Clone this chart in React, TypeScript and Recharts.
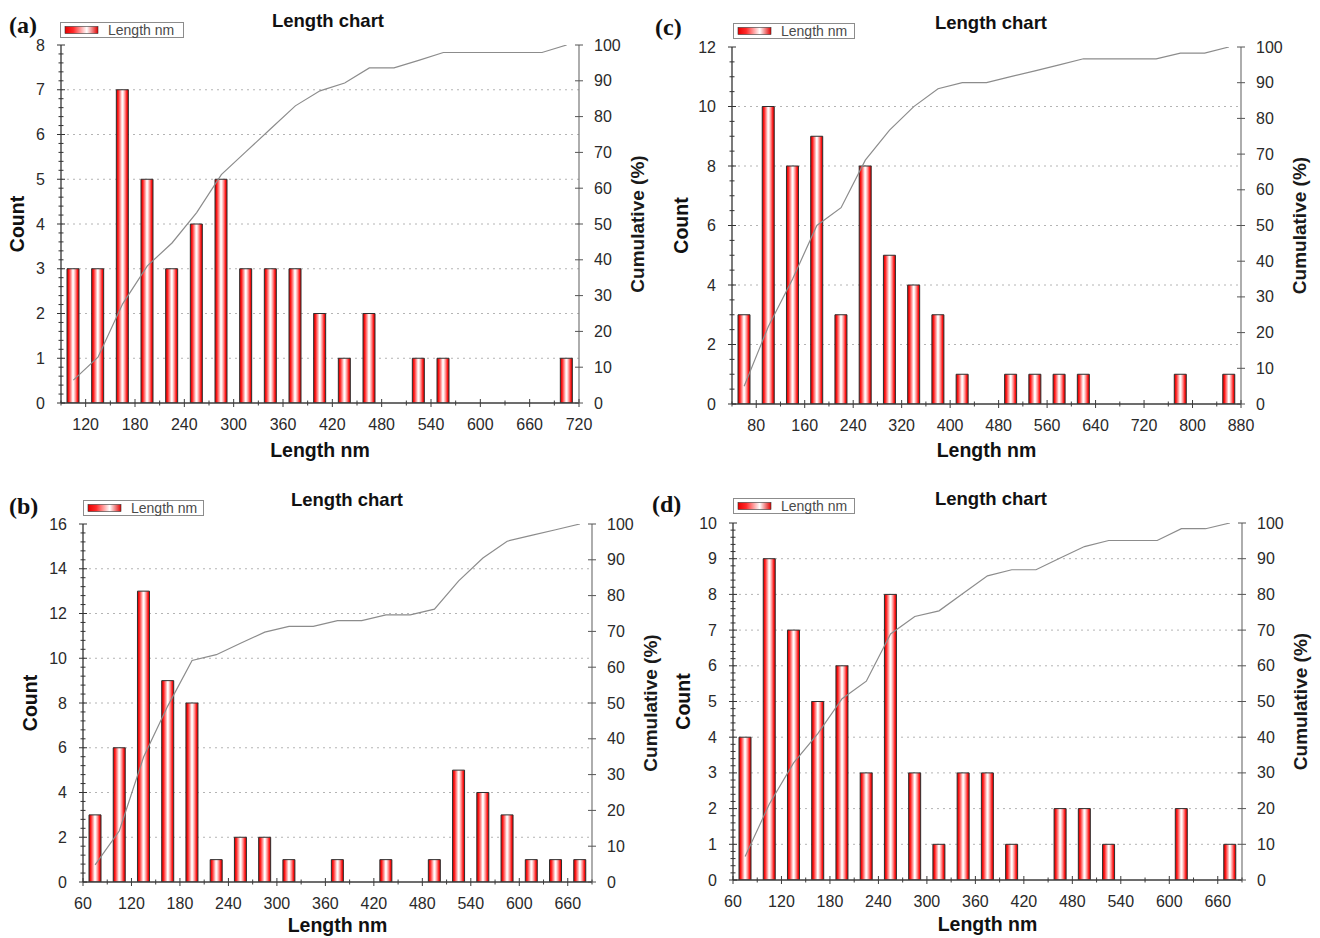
import React from 'react';
import { ComposedChart, Bar, Line, XAxis, YAxis, CartesianGrid } from 'recharts';

// ---------- data ----------
const binsA = [105, 135, 165, 195, 225, 255, 285, 315, 345, 375, 405, 435, 465, 495, 525, 555, 585, 615, 645, 675, 705];
const countsA = [3, 3, 7, 5, 3, 4, 5, 3, 3, 3, 2, 1, 2, 0, 1, 1, 0, 0, 0, 0, 1];
const cumA = [6.4, 12.8, 27.7, 38.3, 44.7, 53.2, 63.8, 70.2, 76.6, 83.0, 87.2, 89.4, 93.6, 93.6, 95.7, 97.9, 97.9, 97.9, 97.9, 97.9, 100];

const binsB = [75, 105, 135, 165, 195, 225, 255, 285, 315, 345, 375, 405, 435, 465, 495, 525, 555, 585, 615, 645, 675];
const countsB = [3, 6, 13, 9, 8, 1, 2, 2, 1, 0, 1, 0, 1, 0, 1, 5, 4, 3, 1, 1, 1];
const cumB = [4.8, 14.3, 34.9, 49.2, 61.9, 63.5, 66.7, 69.8, 71.4, 71.4, 73.0, 73.0, 74.6, 74.6, 76.2, 84.1, 90.5, 95.2, 96.8, 98.4, 100];

const binsC = [60, 100, 140, 180, 220, 260, 300, 340, 380, 420, 460, 500, 540, 580, 620, 660, 700, 740, 780, 820, 860];
const countsC = [3, 10, 8, 9, 3, 8, 5, 4, 3, 1, 0, 1, 1, 1, 1, 0, 0, 0, 1, 0, 1];
const cumC = [5.0, 21.7, 35.0, 50.0, 55.0, 68.3, 76.7, 83.3, 88.3, 90.0, 90.0, 91.7, 93.3, 95.0, 96.7, 96.7, 96.7, 96.7, 98.3, 98.3, 100];

const binsD = [75, 105, 135, 165, 195, 225, 255, 285, 315, 345, 375, 405, 435, 465, 495, 525, 555, 585, 615, 645, 675];
const countsD = [4, 9, 7, 5, 6, 3, 8, 3, 1, 3, 3, 1, 0, 2, 2, 1, 0, 0, 2, 0, 1];
const cumD = [6.6, 21.3, 32.8, 41.0, 50.8, 55.7, 68.9, 73.8, 75.4, 80.3, 85.2, 86.9, 86.9, 90.2, 93.4, 95.1, 95.1, 95.1, 98.4, 98.4, 100];

// tick labels
const xTicksA = [120, 180, 240, 300, 360, 420, 480, 540, 600, 660, 720];
const xTicksB = [60, 120, 180, 240, 300, 360, 420, 480, 540, 600, 660];
const xTicksC = [80, 160, 240, 320, 400, 480, 560, 640, 720, 800, 880];
const xTicksD = [60, 120, 180, 240, 300, 360, 420, 480, 540, 600, 660];
const yTicksA = [0, 1, 2, 3, 4, 5, 6, 7, 8];
const yTicksB = [0, 2, 4, 6, 8, 10, 12, 14, 16];
const yTicksC = [0, 2, 4, 6, 8, 10, 12];
const yTicksD = [0, 1, 2, 3, 4, 5, 6, 7, 8, 9, 10];
const cumTicks = [0, 10, 20, 30, 40, 50, 60, 70, 80, 90, 100];

const SANS = '"Liberation Sans", Arial, Helvetica, sans-serif';
const SERIF = '"Liberation Serif", "Times New Roman", serif';

// minor tick helper (axis decoration only)
function withMinor(majors: number[], step: number, lo: number, hi: number): number[] {
  const out: number[] = [];
  const n = Math.round((hi - lo) / step);
  for (let i = 0; i <= n; i++) out.push(+(lo + i * step).toFixed(6));
  majors.forEach((m) => { if (!out.some((v) => Math.abs(v - m) < 1e-6)) out.push(m); });
  return out.sort((a, b) => a - b);
}

function isMajor(v: number, majors: number[]) {
  return majors.some((m) => Math.abs(m - v) < 1e-6);
}

function makeTick(side: 'bottom' | 'top' | 'left' | 'right', majors: number[], color: string) {
  return (props: any) => {
    const { x, y, payload } = props;
    const v = payload.value as number;
    const maj = isMajor(v, majors);
    const len = maj ? 4 : 2.5;
    const txt = { fontFamily: SANS, fontSize: 16, fill: '#2a2a2a' } as any;
    if (side === 'bottom') {
      return (
        <g>
          <line x1={x} x2={x} y1={y - len} y2={y + len} stroke={color} strokeWidth={1} />
          {maj && (
            <text x={x} y={y + 21} textAnchor="middle" dominantBaseline="central" {...txt}>{v}</text>
          )}
        </g>
      );
    }
    if (side === 'top') {
      return <line x1={x} x2={x} y1={y} y2={y + (maj ? 5 : 3)} stroke={color} strokeWidth={1} />;
    }
    if (side === 'left') {
      return (
        <g>
          <line x1={x - len} x2={x + len} y1={y} y2={y} stroke={color} strokeWidth={1} />
          {maj && (
            <text x={x - 16} y={y} textAnchor="end" dominantBaseline="central" {...txt}>{v}</text>
          )}
        </g>
      );
    }
    return (
      <g>
        <line x1={x - 4} x2={x + 4} y1={y} y2={y} stroke={color} strokeWidth={1} />
        <text x={x + 15} y={y} textAnchor="start" dominantBaseline="central" {...txt}>{v}</text>
      </g>
    );
  };
}

type Plot = { l: number; t: number; r: number; b: number };
type PanelCfg = {
  id: string;
  letter: string;
  plot: Plot;
  xDomain: [number, number];
  xMajor: number[];
  xMinorStep: number;
  yMax: number;
  yMajor: number[];
  yMinorStep: number;
  bins: number[];
  counts: number[];
  cum: number[];
  countOff: number;
  xTitleOff: number;
  title: { x: number; y: number };
  legend: { x: number; y: number; w: number };
  letterPos: { x: number; y: number };
};

const panels: PanelCfg[] = [
  {
    id: 'a', letter: '(a)', plot: { l: 61, t: 45, r: 579, b: 403 },
    xDomain: [90, 720], xMajor: xTicksA, xMinorStep: 30,
    yMax: 8, yMajor: yTicksA, yMinorStep: 0.2,
    bins: binsA, counts: countsA, cum: cumA, countOff: 44, xTitleOff: 47,
    title: { x: 328, y: 20 }, legend: { x: 60, y: 22, w: 123 }, letterPos: { x: 9, y: 33 },
  },
  {
    id: 'c', letter: '(c)', plot: { l: 732, t: 47, r: 1241, b: 404 },
    xDomain: [40, 880], xMajor: xTicksC, xMinorStep: 40,
    yMax: 12, yMajor: yTicksC, yMinorStep: 0.5,
    bins: binsC, counts: countsC, cum: cumC, countOff: 51, xTitleOff: 46,
    title: { x: 991, y: 22 }, legend: { x: 733, y: 23, w: 121 }, letterPos: { x: 655, y: 35 },
  },
  {
    id: 'b', letter: '(b)', plot: { l: 83, t: 524, r: 592, b: 882 },
    xDomain: [60, 690], xMajor: xTicksB, xMinorStep: 30,
    yMax: 16, yMajor: yTicksB, yMinorStep: 0.4,
    bins: binsB, counts: countsB, cum: cumB, countOff: 53, xTitleOff: 43,
    title: { x: 347, y: 499 }, legend: { x: 83, y: 500, w: 120 }, letterPos: { x: 9, y: 514 },
  },
  {
    id: 'd', letter: '(d)', plot: { l: 733, t: 523, r: 1242, b: 880 },
    xDomain: [60, 690], xMajor: xTicksD, xMinorStep: 30,
    yMax: 10, yMajor: yTicksD, yMinorStep: 0.2,
    bins: binsD, counts: countsD, cum: cumD, countOff: 50, xTitleOff: 44,
    title: { x: 991, y: 498 }, legend: { x: 733, y: 498, w: 121 }, letterPos: { x: 652, y: 512 },
  },
];

const LEFT_W = 60;
const RIGHT_W = 60;
const TOP_M = 10;
const X_H = 40;

function Panel({ cfg }: { cfg: PanelCfg }) {
  const { plot } = cfg;
  const width = plot.r - plot.l + LEFT_W + RIGHT_W;
  const height = plot.b - plot.t + TOP_M + X_H;
  const data = cfg.bins.map((x, i) => ({ x, count: cfg.counts[i], cum: cfg.cum[i] }));
  const xFirst = cfg.xMajor[0] - Math.floor((cfg.xMajor[0] - cfg.xDomain[0]) / cfg.xMinorStep) * cfg.xMinorStep;
  const xLastMajor = cfg.xMajor[cfg.xMajor.length - 1];
  const xLast = xLastMajor + Math.floor((cfg.xDomain[1] - xLastMajor) / cfg.xMinorStep) * cfg.xMinorStep;
  const xTicksAll = withMinor(cfg.xMajor, cfg.xMinorStep, xFirst, xLast)
    .filter((v) => v >= cfg.xDomain[0] - 1e-6 && v <= cfg.xDomain[1] + 1e-6);
  const yTicksAll = withMinor(cfg.yMajor, cfg.yMinorStep, 0, cfg.yMax);
  const gridVals = cfg.yMajor.filter((v) => v > 0 && v < cfg.yMax);
  const gid = 'barGrad-' + cfg.id;
  return (
    <div style={{ position: 'absolute', left: plot.l - LEFT_W, top: plot.t - TOP_M, width, height }}>
      <ComposedChart width={width} height={height} data={data} margin={{ top: TOP_M, right: 0, bottom: 0, left: 0 }}>
        <defs>
          <linearGradient id={gid} x1="0" y1="0" x2="1" y2="0">
            <stop offset="0%" stopColor="#c80000" />
            <stop offset="14%" stopColor="#ff1414" />
            <stop offset="32%" stopColor="#ff8c8c" />
            <stop offset="48%" stopColor="#ffffff" />
            <stop offset="56%" stopColor="#fff2f2" />
            <stop offset="72%" stopColor="#ff8c8c" />
            <stop offset="88%" stopColor="#ff1414" />
            <stop offset="100%" stopColor="#c80000" />
          </linearGradient>
        </defs>
        <CartesianGrid
          xAxisId="x"
          yAxisId="count"
          vertical={false}
          horizontalValues={gridVals}
          stroke="#b4b4b4"
          strokeDasharray="2 4"
        />
        <XAxis
          xAxisId="x"
          dataKey="x"
          type="number"
          domain={cfg.xDomain}
          allowDataOverflow
          ticks={xTicksAll}
          interval={0}
          height={X_H}
          tickSize={0}
          tickMargin={0}
          tickLine={false}
          axisLine={{ stroke: '#3c3c3c', strokeWidth: 1.3 }}
          tick={makeTick('bottom', cfg.xMajor, '#3c3c3c')}
        />
        <XAxis
          xAxisId="xt"
          orientation="top"
          dataKey="x"
          type="number"
          domain={cfg.xDomain}
          allowDataOverflow
          ticks={xTicksAll}
          interval={0}
          height={0}
          tickSize={0}
          tickMargin={0}
          tickLine={false}
          axisLine={{ stroke: '#8a8a8a', strokeWidth: 1 }}
          tick={makeTick('top', cfg.xMajor, '#8a8a8a')}
        />
        <YAxis
          yAxisId="count"
          orientation="left"
          type="number"
          domain={[0, cfg.yMax]}
          allowDataOverflow
          ticks={yTicksAll}
          interval={0}
          width={LEFT_W}
          tickSize={0}
          tickMargin={0}
          tickLine={false}
          axisLine={{ stroke: '#333333', strokeWidth: 1.3 }}
          tick={makeTick('left', cfg.yMajor, '#333333')}
        />
        <YAxis
          yAxisId="cum"
          orientation="right"
          type="number"
          domain={[0, 100]}
          allowDataOverflow
          ticks={cumTicks}
          interval={0}
          width={RIGHT_W}
          tickSize={0}
          tickMargin={0}
          tickLine={false}
          axisLine={{ stroke: '#777777', strokeWidth: 1.2 }}
          tick={makeTick('right', cumTicks, '#555555')}
        />
        <Bar
          xAxisId="x"
          yAxisId="count"
          dataKey="count"
          barSize={12}
          fill={`url(#${gid})`}
          stroke="#2e2e2e"
          strokeWidth={1}
          isAnimationActive={false}
        />
        <Line
          xAxisId="x"
          yAxisId="cum"
          dataKey="cum"
          type="linear"
          stroke="#8c8c8c"
          strokeWidth={1.2}
          dot={false}
          activeDot={false}
          isAnimationActive={false}
        />
      </ComposedChart>
    </div>
  );
}

function Overlay() {
  return (
    <svg width={1320} height={938} style={{ position: 'absolute', left: 0, top: 0, pointerEvents: 'none' }}>
      <defs>
        <linearGradient id="legendGrad" x1="0" y1="0" x2="1" y2="0">
          <stop offset="0%" stopColor="#e80000" />
          <stop offset="25%" stopColor="#ff2a2a" />
          <stop offset="66%" stopColor="#ffffff" />
          <stop offset="100%" stopColor="#e00000" />
        </linearGradient>
      </defs>
      {panels.map((p) => {
        const cx = (p.plot.l + p.plot.r) / 2;
        const cy = (p.plot.t + p.plot.b) / 2;
        return (
          <g key={p.id}>
            <text x={p.letterPos.x} y={p.letterPos.y} fontFamily={SERIF} fontWeight="bold" fontSize={24} fill="#111">
              {p.letter}
            </text>
            <text x={p.title.x} y={p.title.y} textAnchor="middle" dominantBaseline="central" fontFamily={SANS} fontWeight="bold" fontSize={18.5} fill="#111">
              Length chart
            </text>
            <rect x={p.legend.x + 0.5} y={p.legend.y + 0.5} width={p.legend.w} height={15} fill="#fff" stroke="#8c8c8c" strokeWidth={1} />
            <rect x={p.legend.x + 5} y={p.legend.y + 4.5} width={33} height={7} fill="url(#legendGrad)" stroke="#333" strokeWidth={0.6} />
            <text x={p.legend.x + 48} y={p.legend.y + 8} dominantBaseline="central" fontFamily={SANS} fontSize={14} fill="#4a4a4a">
              Length nm
            </text>
            <text x={cx} y={p.plot.b + p.xTitleOff} textAnchor="middle" dominantBaseline="central" fontFamily={SANS} fontWeight="bold" fontSize={19.5} fill="#111">
              Length nm
            </text>
            <text
              x={p.plot.l - p.countOff}
              y={cy}
              textAnchor="middle"
              dominantBaseline="central"
              transform={`rotate(-90 ${p.plot.l - p.countOff} ${cy})`}
              fontFamily={SANS}
              fontWeight="bold"
              fontSize={19.5}
              fill="#111"
            >
              Count
            </text>
            <text
              x={p.plot.r + 58}
              y={cy}
              textAnchor="middle"
              dominantBaseline="central"
              transform={`rotate(-90 ${p.plot.r + 58} ${cy})`}
              fontFamily={SANS}
              fontWeight="bold"
              fontSize={19}
              fill="#1a1a1a"
            >
              Cumulative (%)
            </text>
          </g>
        );
      })}
    </svg>
  );
}

export default function App() {
  return (
    <div style={{ position: 'absolute', left: 0, top: 0, width: 1320, height: 938, background: '#ffffff', overflow: 'hidden' }}>
      {panels.map((p) => (
        <Panel key={p.id} cfg={p} />
      ))}
      <Overlay />
    </div>
  );
}
